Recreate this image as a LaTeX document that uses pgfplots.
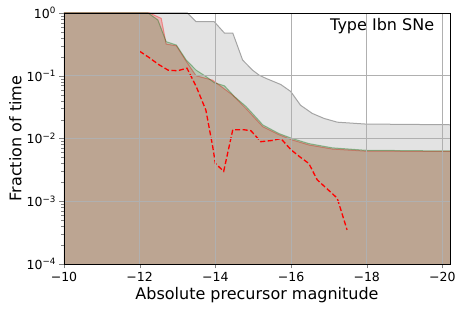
\documentclass[border=0pt]{standalone}
\usepackage{pgfplots}
\pgfplotsset{compat=1.18}
\usepackage{fontspec}
\setmainfont{DejaVu Sans}
\definecolor{gridgray}{RGB}{176,176,176}
\definecolor{edgegray}{RGB}{165,165,165}
\definecolor{fillgray}{RGB}{227,227,227}
\definecolor{dgreen}{RGB}{0,100,0}
\begin{document}
\begin{tikzpicture}
\useasboundingbox (-64pt,-48pt) rectangle (399pt,264pt);
\begin{axis}[
  at={(0pt,0pt)}, anchor=south west,
  scale only axis, width=386pt, height=251pt,
  x dir=reverse, xmin=-20.2, xmax=-10,
  ymode=log, ymin=1e-4, ymax=1,
  xtick={-10,-12,-14,-16,-18,-20},
  xticklabels={−10,−12,−14,−16,−18,−20},
  ytick={1e-4,1e-3,1e-2,1e-1,1},
  yticklabels={10\textsuperscript{−4},10\textsuperscript{−3},10\textsuperscript{−2},10\textsuperscript{−1},10\textsuperscript{0}},
  minor ytick={2e-4,3e-4,4e-4,5e-4,6e-4,7e-4,8e-4,9e-4,
    2e-3,3e-3,4e-3,5e-3,6e-3,7e-3,8e-3,9e-3,
    2e-2,3e-2,4e-2,5e-2,6e-2,7e-2,8e-2,9e-2,
    0.2,0.3,0.4,0.5,0.6,0.7,0.8,0.9},
  minor grid style={draw=none},
  tick label style={font=\fontsize{12.5}{14}\selectfont},
  tick align=outside, tick pos=left,
  major tick length=4.5pt, minor tick length=2.5pt,
  grid=major, major grid style={gridgray, line width=0.8pt},
  axis line style={black, line width=0.8pt},
  axis on top,
  xlabel={Absolute precursor magnitude},
  ylabel={Fraction of time},
  label style={font=\fontsize{16}{18}\selectfont},
  xlabel style={at={(axis description cs:0.5,-0.125)}, anchor=center},
  ylabel style={at={(axis description cs:-0.126,0.5)}, anchor=center},
]
\addplot[draw=edgegray, line width=1pt, fill=fillgray] coordinates {
(-9.5,1) (-13.26,1) (-13.49,0.726) (-13.97,0.726) (-14.24,0.479) (-14.46,0.479)
(-14.72,0.178) (-14.98,0.123) (-15.16,0.102) (-15.33,0.0912) (-15.73,0.0724) (-15.99,0.0562)
(-16.25,0.0339) (-16.56,0.0251) (-16.87,0.0209) (-17.22,0.0182) (-17.96,0.0170)
(-20.5,0.0165) (-20.5,1e-5) (-9.5,1e-5)} -- cycle;
\addplot[draw=red, draw opacity=0.35, line width=1pt, fill=red, fill opacity=0.2] coordinates {
(-9.5,1) (-12.26,1) (-12.57,0.822) (-12.70,0.32) (-12.97,0.30) (-13.23,0.17) (-13.49,0.10)
(-13.93,0.085) (-14.46,0.049) (-14.81,0.030) (-15.25,0.0155) (-15.68,0.0115) (-16.03,0.0095)
(-16.47,0.0079) (-17.09,0.0068) (-17.96,0.0063) (-20.5,0.0062) (-20.5,1e-5) (-9.5,1e-5)} -- cycle;
\addplot[draw=dgreen, draw opacity=0.35, line width=1pt, fill=dgreen, fill opacity=0.19] coordinates {
(-9.5,1) (-12.22,1) (-12.48,0.776) (-12.70,0.349) (-12.97,0.309) (-13.23,0.178) (-13.49,0.123)
(-13.76,0.0966) (-13.97,0.0776) (-14.24,0.0692) (-14.5,0.0468) (-14.81,0.0324) (-15.16,0.0191)
(-15.25,0.0165) (-15.68,0.0120) (-16.03,0.0100) (-16.47,0.0083) (-17.09,0.0071) (-17.96,0.0065)
(-20.5,0.0063) (-20.5,1e-5) (-9.5,1e-5)} -- cycle;
\addplot[red, line width=1.3pt, dash pattern=on 5pt off 2.5pt] coordinates {
(-12,0.245) (-12.25,0.195) (-12.5,0.151) (-12.75,0.123) (-13,0.120) (-13.25,0.132)
(-13.5,0.066) (-13.75,0.0282) (-13.93,0.0074) (-14,0.0040) (-14.22,0.0030) (-14.46,0.0138)
(-14.75,0.0138) (-14.94,0.0133) (-15.2,0.0089) (-15.5,0.0093) (-15.73,0.0100)
(-16,0.0066) (-16.25,0.0050) (-16.47,0.0040) (-16.69,0.0022) (-17.22,0.00112) (-17.48,0.00035)};
\node[anchor=east, font=\fontsize{16}{18}\selectfont] at (rel axis cs:0.968,0.948) {Type Ibn SNe};
\end{axis}
\end{tikzpicture}
\end{document}
